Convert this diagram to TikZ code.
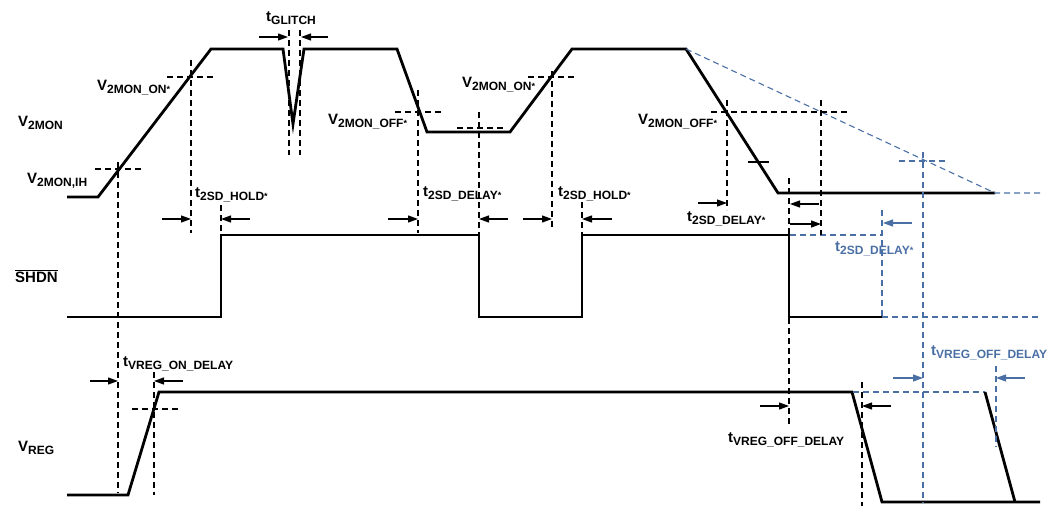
\documentclass[tikz,border=0pt]{standalone}
\usepackage{fontspec}
\setmainfont{Liberation Sans}
\usepackage{tikz}
\usetikzlibrary{arrows.meta, positioning}
\definecolor{altblue}{HTML}{4A6FA5}
\newcommand{\wavelbl}[2]{{\fontsize{15}{15}\selectfont #1}\raisebox{-3.5pt}{\fontsize{12}{12}\selectfont #2}}
\newcommand{\wstar}{{\fontsize{9}{9}\selectfont\raisebox{1pt}{*}}}
\tikzset{
  signal/.style={line width=2.8pt, line join=miter, black},
  guide/.style={line width=1.1pt, dash pattern=on 6pt off 4pt, black},
  altguide/.style={guide, color=altblue},
  dimarrow/.style={-{Triangle[length=10pt,width=7pt]}, line width=1.2pt, black},
  altarrow/.style={dimarrow, color=altblue},
  lab/.style={font=\bfseries, inner sep=0pt, anchor=base west},
  altlab/.style={lab, text=altblue},
}

\begin{document}
\begin{tikzpicture}[x=1pt, y=-1pt]
  \useasboundingbox (0,0) rectangle (1053,506);

  % waveforms
  \draw[signal] (67,197) -- (98,197) -- (211,49) -- (283,49) -- (293,124) -- (304,49)
    -- (397,49) -- (427,132) -- (510,132) -- (572,49) -- (686,49) -- (778,193) -- (995,193);
  \draw[altguide] (686,49) -- (995,193) -- (1040,193);

  \draw[signal] (67,317) -- (221,317) -- (221,235) -- (479,235) -- (479,317) -- (582,317)
    -- (582,235) -- (789,235) -- (789,317) -- (882,317);
  \draw[altguide] (882,317) -- (1040,317);
  \draw[altguide] (790,235) -- (882,235);
  \draw[altguide] (882,210) -- (882,317);

  \draw[signal] (67,495) -- (128,495) -- (159,392) -- (852,392) -- (882,502) -- (1040,502);
  \draw[altguide] (853,392) -- (985,392);
  \draw[signal] (985,392) -- (1015,502);

  % black guides
  \draw[guide] (95,169) -- (142,169);
  \draw[guide] (118,162) -- (118,493);
  \draw[guide] (167,77) -- (213,77);
  \draw[guide] (191,60) -- (191,233);
  \draw[guide] (221,205) -- (221,235);
  \draw[guide] (289,30) -- (289,155);
  \draw[guide] (300,30) -- (300,155);
  \draw[guide] (395,112) -- (442,112);
  \draw[guide] (418,90) -- (418,233);
  \draw[guide] (457,128) -- (503,128);
  \draw[guide] (479,112) -- (479,235);
  \draw[guide] (528,77) -- (575,77);
  \draw[guide] (552,71) -- (552,230);
  \draw[guide] (582,202) -- (582,235);
  \draw[guide] (711,112) -- (848,112);
  \draw[guide] (727,100) -- (727,210);
  \draw[guide] (821,100) -- (821,235);
  \draw[line width=1.1pt] (748,162) -- (769,162);
  \draw[guide] (789,178) -- (789,427);
  \draw[guide] (132,409) -- (178,409);
  \draw[guide] (154,372) -- (154,495);
  \draw[guide] (862,382) -- (862,506);

  % blue guides
  \draw[altguide] (899,161) -- (946,161);
  \draw[altguide] (923,152) -- (923,503);
  \draw[altguide] (996,366) -- (996,447);

  % dimension arrows
  \draw[dimarrow] (259,37) -- (288,37);
  \draw[dimarrow] (328,37) -- (301,37);
  \draw[dimarrow] (162,219) -- (191,219);
  \draw[dimarrow] (250,219) -- (221,219);
  \draw[dimarrow] (388,219) -- (418,219);
  \draw[dimarrow] (508,219) -- (479,219);
  \draw[dimarrow] (523,219) -- (552,219);
  \draw[dimarrow] (612,219) -- (582,219);
  \draw[dimarrow] (698,203) -- (727,203);
  \draw[dimarrow] (819,204) -- (790,204);
  \draw[dimarrow] (790,224) -- (821,224);
  \draw[dimarrow] (90,381) -- (118,381);
  \draw[dimarrow] (183,381) -- (154,381);
  \draw[dimarrow] (760,406) -- (789,406);
  \draw[dimarrow] (891,406) -- (862,406);
  \draw[altarrow] (912,223) -- (883,223);
  \draw[altarrow] (893,378) -- (923,378);
  \draw[altarrow] (1025,378) -- (996,378);

  % labels
  \node[lab] (v2mon) at (18,126) {\wavelbl{V}{2MON}};
  \node[lab] (shdn) at (15,282) {\fontsize{15}{15}\selectfont$\overline{\mbox{SHDN}}$};
  \node[lab] (vreg) at (18,451) {\wavelbl{V}{REG}};
  \node[lab] (ih) at (27,183) {\wavelbl{V}{2MON,IH}};
  \node[lab] (on1) at (97,90) {\wavelbl{V}{2MON\_ON\wstar}};
  \node[lab] (glitch) at (266,21) {\wavelbl{t}{GLITCH}};
  \node[lab] (hold1) at (195,197) {\wavelbl{t}{2SD\_HOLD\wstar}};
  \node[lab] (off1) at (328,124) {\wavelbl{V}{2MON\_OFF\wstar}};
  \node[lab] (delay1) at (423,196) {\wavelbl{t}{2SD\_DELAY\wstar}};
  \node[lab] (on2) at (462,87) {\wavelbl{V}{2MON\_ON\wstar}};
  \node[lab] (hold2) at (558,196) {\wavelbl{t}{2SD\_HOLD\wstar}};
  \node[lab] (off2) at (638,124) {\wavelbl{V}{2MON\_OFF\wstar}};
  \node[lab] (delay2) at (687,221) {\wavelbl{t}{2SD\_DELAY\wstar}};
  \node[altlab] (delay3) at (835,251) {\wavelbl{t}{2SD\_DELAY\wstar}};
  \node[lab] (regon) at (123,366) {\wavelbl{t}{VREG\_ON\_DELAY}};
  \node[lab] (regoff) at (728,442) {\wavelbl{t}{VREG\_OFF\_DELAY}};
  \node[altlab] (regoff2) at (931,355) {\wavelbl{t}{VREG\_OFF\_DELAY}};

\end{tikzpicture}
\end{document}
